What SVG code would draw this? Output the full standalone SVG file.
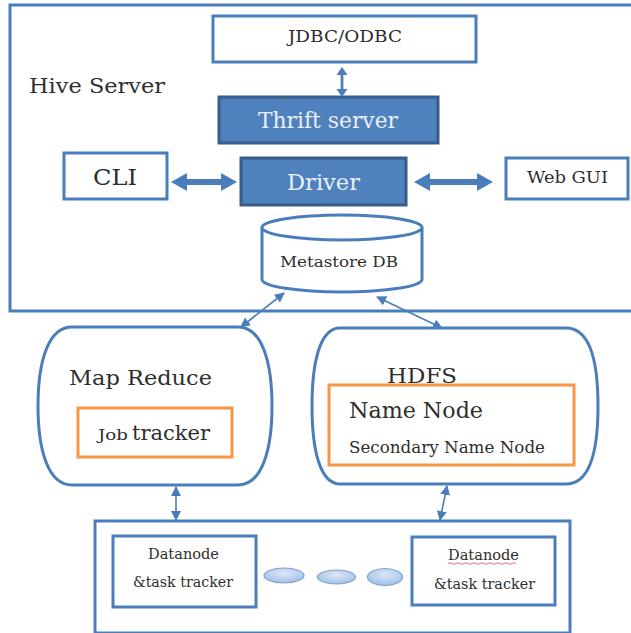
<svg xmlns="http://www.w3.org/2000/svg" width="631" height="633" viewBox="0 0 631 633">
  <style>
    .box { fill: #ffffff; stroke: #4a7ebb; stroke-width: 3; }
    .dark { fill: #4f81bd; stroke: #385d8a; stroke-width: 3; }
    .org { fill: #ffffff; stroke: #f79646; stroke-width: 3; }
    text { font-family: 'DejaVu Serif', 'Liberation Serif', serif; }
    .t { fill: #2e2e2e; }
    .w { fill: #e9eff8; }
    .thin { stroke: #4a7ebb; stroke-width: 1.6; fill: none; }
    .blk { fill: #4a7ebb; }
  </style>
  <defs>
    <marker id="ah" viewBox="0 0 10 10" refX="9" refY="5" markerWidth="10" markerHeight="10" markerUnits="userSpaceOnUse" orient="auto-start-reverse">
      <path d="M0,0 L10,5 L0,10 Z" fill="#4a7ebb"/>
    </marker>
    <radialGradient id="dot" cx="50%" cy="35%" r="70%">
      <stop offset="0" stop-color="#dbe7f6"/>
      <stop offset="1" stop-color="#9dbde6"/>
    </radialGradient>
  </defs>
  <rect width="631" height="633" fill="#ffffff"/>

  <!-- Hive Server container -->
  <g id="hive-server">
    <rect class="box" x="10" y="5" width="630" height="306"/>
    <text class="t" x="29" y="93" font-size="21" textLength="136" lengthAdjust="spacingAndGlyphs">Hive Server</text>
  </g>

  <g id="jdbc">
    <rect class="box" x="213" y="16" width="263" height="46"/>
    <text class="t" x="288" y="42" font-size="17" textLength="114" lengthAdjust="spacingAndGlyphs">JDBC/ODBC</text>
  </g>

  <g id="thrift">
    <rect class="dark" x="219" y="97" width="219" height="46"/>
    <text class="w" x="258" y="128" font-size="22" textLength="140" lengthAdjust="spacingAndGlyphs">Thrift server</text>
  </g>

  <g id="driver">
    <rect class="dark" x="241" y="158" width="165" height="47"/>
    <text class="w" x="287" y="190" font-size="22" textLength="73" lengthAdjust="spacingAndGlyphs">Driver</text>
  </g>

  <g id="cli">
    <rect class="box" x="64" y="153" width="103" height="46"/>
    <text class="t" x="93" y="185" font-size="22" textLength="44" lengthAdjust="spacingAndGlyphs">CLI</text>
  </g>

  <g id="webgui">
    <rect class="box" x="506" y="158" width="122" height="41"/>
    <text class="t" x="527" y="183" font-size="16" textLength="81" lengthAdjust="spacingAndGlyphs">Web GUI</text>
  </g>

  <g id="metastore">
    <path class="box" d="M262,227.5 L262,279.5 A80,12.5 0 0 0 422,279.5 L422,227.5"/>
    <ellipse class="box" cx="342" cy="227.5" rx="80" ry="12.5"/>
    <text class="t" x="280" y="267" font-size="15.5" textLength="118" lengthAdjust="spacingAndGlyphs">Metastore DB</text>
  </g>

  <!-- Map Reduce cluster -->
  <g id="mapreduce">
    <path class="box" d="M72,327 H238 C262,327 272,362 272,406 C272,450 262,485 238,485 H72 C48,485 38,450 38,406 C38,362 48,327 72,327 Z"/>
    <text class="t" x="69" y="385" font-size="21" textLength="143" lengthAdjust="spacingAndGlyphs">Map Reduce</text>
  </g>

  <g id="jobtracker">
    <rect class="org" x="78" y="408" width="154" height="49"/>
    <text class="t" x="98" y="440" font-size="15.5" textLength="30" lengthAdjust="spacingAndGlyphs">Job</text>
    <text class="t" x="132" y="440" font-size="21" textLength="78" lengthAdjust="spacingAndGlyphs">tracker</text>
  </g>

  <!-- HDFS cluster -->
  <g id="hdfs">
    <path class="box" d="M340,328 H566 C590,328 598,362 598,406 C598,450 590,484 566,484 H340 C320,484 312,450 312,406 C312,362 320,328 340,328 Z"/>
    <text class="t" x="387" y="383" font-size="21" textLength="70" lengthAdjust="spacingAndGlyphs">HDFS</text>
  </g>

  <g id="namenode">
    <rect class="org" x="329" y="385" width="245" height="80"/>
    <text class="t" x="349" y="418" font-size="23" textLength="134" lengthAdjust="spacingAndGlyphs">Name Node</text>
    <text class="t" x="349" y="453" font-size="16" textLength="196" lengthAdjust="spacingAndGlyphs">Secondary Name Node</text>
  </g>

  <!-- Data nodes -->
  <g id="datanodes">
    <rect class="box" x="95" y="521" width="475" height="112"/>
  </g>

  <g id="datanode-1">
    <rect class="box" x="113" y="536" width="143" height="71"/>
    <text class="t" x="148" y="559" font-size="14" textLength="71" lengthAdjust="spacingAndGlyphs">Datanode</text>
    <text class="t" x="133" y="587" font-size="14" textLength="100" lengthAdjust="spacingAndGlyphs">&amp;task tracker</text>
  </g>

  <g id="datanode-2">
    <rect class="box" x="412" y="537" width="143" height="68"/>
    <text class="t" x="448" y="560" font-size="14" textLength="71" lengthAdjust="spacingAndGlyphs">Datanode</text>
    <path d="M448,563.5 q2,-1.5 4,0 t4,0 t4,0 t4,0 t4,0 t4,0 t4,0 t4,0 t4,0 t4,0 t4,0 t4,0 t4,0 t4,0 t4,0 t4,0 t4,0" fill="none" stroke="#d9534f" stroke-width="0.8"/>
    <text class="t" x="434" y="589" font-size="14" textLength="101" lengthAdjust="spacingAndGlyphs">&amp;task tracker</text>
  </g>

  <g id="ellipsis">
    <ellipse cx="284" cy="575.5" rx="20" ry="7.5" fill="url(#dot)" stroke="#7fa3d3" stroke-width="1.2"/>
    <ellipse cx="336.5" cy="577" rx="19" ry="7" fill="url(#dot)" stroke="#7fa3d3" stroke-width="1.2"/>
    <ellipse cx="385" cy="577" rx="17.5" ry="8.5" fill="url(#dot)" stroke="#7fa3d3" stroke-width="1.2"/>
  </g>

  <!-- Connectors -->
  <g id="connectors">
    <polygon class="blk" points="342,67 347.5,75 343.4,75 343.4,89 347.5,89 342,97 336.5,89 340.6,89 340.6,75 336.5,75"/>
    <polygon class="blk" points="171,182 187,173 187,179 221,179 221,173 237,182 221,191 221,185 187,185 187,191"/>
    <polygon class="blk" points="414,182 430,173 430,179 477,179 477,173 493,182 477,191 477,185 430,185 430,191"/>
    <line class="thin" x1="284" y1="293" x2="241" y2="327" marker-start="url(#ah)" marker-end="url(#ah)"/>
    <line class="thin" x1="377" y1="297" x2="442" y2="328" marker-start="url(#ah)" marker-end="url(#ah)"/>
    <line class="thin" x1="176" y1="487" x2="176" y2="520" marker-start="url(#ah)" marker-end="url(#ah)"/>
    <line class="thin" x1="447" y1="486" x2="440" y2="520" marker-start="url(#ah)" marker-end="url(#ah)"/>
  </g>
</svg>
